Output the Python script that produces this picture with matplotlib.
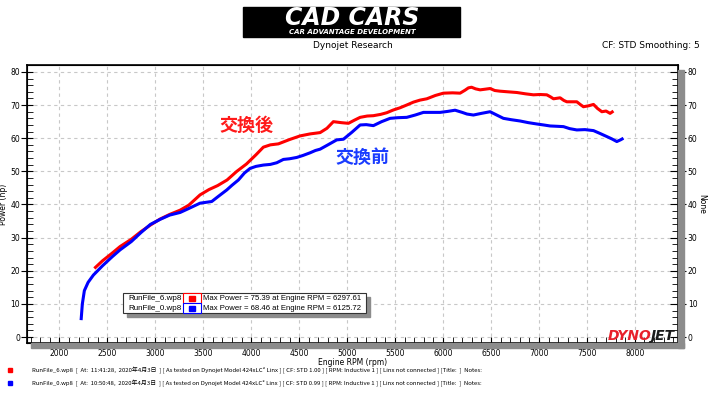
import numpy as np
import matplotlib
matplotlib.use("Agg")
import matplotlib.pyplot as plt
from matplotlib.patches import Rectangle
from matplotlib.ticker import MultipleLocator

plt.rcParams['font.family'] = ['DejaVu Sans', 'Noto Sans CJK JP']

# run after the swap (交換後) - RunFile_6
rpm_after = [2365, 2450, 2550, 2633, 2750, 2850, 2950, 3050, 3150, 3260, 3350, 3467,
             3560, 3650, 3749, 3850, 3950, 4050, 4127, 4200, 4284, 4400, 4510, 4614,
             4719, 4790, 4857, 4940, 5014, 5080, 5136, 5210, 5274, 5350, 5414, 5480,
             5553, 5620, 5692, 5760, 5831, 5920, 6004, 6100, 6178, 6230, 6265, 6297.61,
             6340, 6387, 6440, 6491, 6540, 6595, 6680, 6770, 6860, 6943, 7010, 7082,
             7120, 7152, 7221, 7260, 7291, 7350, 7395, 7430, 7464, 7520, 7569, 7610,
             7656, 7700, 7742, 7777]
hp_after = [20.7, 23.0, 25.3, 27.3, 29.5, 31.8, 33.8, 35.6, 37.0, 38.3, 39.8, 42.9,
            44.5, 45.7, 47.4, 50.0, 52.2, 55.0, 57.3, 58.0, 58.3, 59.6, 60.7, 61.3,
            61.7, 63.0, 65.0, 64.7, 64.5, 65.5, 66.3, 66.7, 66.8, 67.2, 67.7, 68.5,
            69.2, 70.0, 70.9, 71.5, 71.9, 72.9, 73.6, 73.7, 73.6, 74.5, 75.2, 75.39,
            74.9, 74.6, 74.8, 75.0, 74.4, 74.2, 74.0, 73.8, 73.4, 73.1, 73.2, 73.1,
            72.5, 71.9, 72.2, 71.4, 71.0, 71.0, 71.0, 70.2, 69.5, 69.8, 70.2, 69.0,
            68.0, 68.2, 67.5, 68.2]

# run before the swap (交換前) - RunFile_0
rpm_before = [2227, 2240, 2261, 2300, 2355, 2450, 2550, 2633, 2750, 2850, 2950, 3050,
              3150, 3260, 3350, 3467, 3589, 3660, 3746, 3800, 3867, 3930, 3989, 4050,
              4127, 4200, 4267, 4336, 4400, 4475, 4540, 4614, 4670, 4719, 4800, 4892,
              4962, 5050, 5136, 5200, 5274, 5360, 5448, 5530, 5622, 5710, 5796, 5880,
              5970, 6050, 6125.72, 6200, 6250, 6317, 6400, 6491, 6560, 6630, 6710, 6804,
              6890, 6978, 7050, 7117, 7190, 7256, 7320, 7395, 7480, 7569, 7640, 7708,
              7760, 7812, 7850, 7881]
hp_before = [5.1, 10.0, 14.0, 16.5, 18.7, 21.5, 24.2, 26.3, 28.8, 31.5, 34.0, 35.5,
             36.8, 37.6, 38.8, 40.4, 40.9, 42.5, 44.4, 45.8, 47.4, 49.5, 50.9, 51.5,
             51.9, 52.1, 52.6, 53.6, 53.8, 54.2, 54.8, 55.6, 56.3, 56.7, 58.0, 59.5,
             59.7, 61.8, 64.0, 64.1, 63.8, 65.0, 66.0, 66.2, 66.3, 67.0, 67.8, 67.8,
             67.8, 68.1, 68.46, 67.8, 67.3, 67.0, 67.5, 68.0, 67.0, 66.0, 65.6, 65.2,
             64.7, 64.3, 64.0, 63.7, 63.6, 63.5, 62.9, 62.5, 62.6, 62.3, 61.4, 60.5,
             59.8, 59.0, 59.5, 60.0]

run_names = ['RunFile_6.wp8', 'RunFile_0.wp8']
run_times = ['11:41:28', '10:50:48']
run_cf = ['1.00', '0.99']
run_colors = ['#ff0000', '#0000ff']


def fx(px):
    return px / 710


def fy(py):
    return 1 - py / 398


fig = plt.figure(figsize=(7.1, 3.98), dpi=100)

# header logo
fig.patches.append(Rectangle((fx(243), fy(37)), fx(460) - fx(243), fy(7) - fy(37),
                             transform=fig.transFigure, color='black', zorder=0))
fig.text(fx(352), fy(18), 'CAD CARS', color='white', fontsize=17, fontweight='bold',
         style='italic', ha='center', va='center')
fig.text(fx(352), fy(32.5), 'CAR ADVANTAGE DEVELOPMENT', color='white', fontsize=5,
         fontweight='bold', style='italic', ha='center', va='center')
fig.text(fx(353), fy(45), 'Dynojet Research', fontsize=6.5, ha='center', va='center')
fig.text(fx(700), fy(45), 'CF: STD Smoothing: 5', fontsize=6.5, ha='right', va='center')

# shadow behind the plot frame
shade = '#8c8c8c'
fig.patches.append(Rectangle((fx(31), fy(348)), fx(684) - fx(31), fy(343) - fy(348),
                             transform=fig.transFigure, color=shade, zorder=0))
fig.patches.append(Rectangle((fx(678), fy(348)), fx(684) - fx(678), fy(70) - fy(348),
                             transform=fig.transFigure, color=shade, zorder=0))

ax = fig.add_axes([fx(27), fy(343), fx(678) - fx(27), fy(65) - fy(343)])
ax.plot(rpm_after, hp_after, color=run_colors[0], lw=2.2, solid_capstyle='butt', zorder=3)
ax.plot(rpm_before, hp_before, color=run_colors[1], lw=2.2, solid_capstyle='butt', zorder=3)

ax.set_xlim(1663, 8450)
ax.set_ylim(-1.8, 82.1)
ax.xaxis.set_major_locator(MultipleLocator(500))
ax.xaxis.set_minor_locator(MultipleLocator(100))
ax.yaxis.set_major_locator(MultipleLocator(10))
ax.yaxis.set_minor_locator(MultipleLocator(2))
ax.grid(True, which='major', color='#c8c8c8', linestyle=(0, (3, 3)), lw=0.8)
ax.tick_params(axis='x', which='major', direction='inout', length=8, width=0.8,
               labelsize=5.5, pad=0.5, top=False)
ax.tick_params(axis='x', which='minor', direction='in', length=4, width=0.6, top=False)
ax.tick_params(axis='y', which='major', direction='inout', length=8, width=0.8,
               labelsize=5.5, pad=1)
ax.tick_params(axis='y', which='minor', direction='in', length=4, width=0.6)
for sp in ax.spines.values():
    sp.set_linewidth(1.2)
ax.set_xlabel('Engine RPM (rpm)', fontsize=5.5, labelpad=0)
ax.set_ylabel('Power (hp)', fontsize=5.5, labelpad=2)

ax2 = ax.twinx()
ax2.set_ylim(ax.get_ylim())
ax2.yaxis.set_major_locator(MultipleLocator(10))
ax2.yaxis.set_minor_locator(MultipleLocator(2))
ax2.tick_params(axis='y', which='major', direction='inout', length=12, width=0.8,
                labelsize=5.5, pad=1)
ax2.tick_params(axis='y', which='minor', direction='in', length=4, width=0.6)
ax2.set_ylabel('None', fontsize=5.5, rotation=270, labelpad=6)

ax.text(3947, 64.0, '交換後', color='#ff1a1a', fontsize=13, fontweight='bold',
        family=['Noto Sans CJK JP'], ha='center', va='center', zorder=4)
ax.text(5156, 54.3, '交換前', color='#1a3cff', fontsize=13, fontweight='bold',
        family=['Noto Sans CJK JP'], ha='center', va='center', zorder=4)

# DYNOJET mark in the lower right corner
fig.text(fx(651), fy(336), 'DYNO', color='#e8202a', fontsize=10, fontweight='bold',
         style='italic', ha='right', va='center', zorder=5)
fig.text(fx(650), fy(336), 'JET', color='#1a1a1a', fontsize=10, fontweight='bold',
         style='italic', ha='left', va='center', zorder=5)

# max power box
runs = [(rpm_after, hp_after), (rpm_before, hp_before)]
fig.patches.append(Rectangle((fx(127), fy(317)), fx(370) - fx(127), fy(297) - fy(317),
                             transform=fig.transFigure, color='#8c8c8c', zorder=5))
fig.patches.append(Rectangle((fx(123), fy(313)), fx(366) - fx(123), fy(293) - fy(313),
                             transform=fig.transFigure, fc='white', ec='#333333',
                             lw=0.8, zorder=6))
for i, (name, (r, p)) in enumerate(zip(run_names, runs)):
    k = int(np.argmax(p))
    ytop = 293 + 10 * i
    fig.patches.append(Rectangle((fx(183), fy(ytop + 10)), fx(201) - fx(183),
                                 fy(ytop) - fy(ytop + 10), transform=fig.transFigure,
                                 fc='white', ec=run_colors[i], lw=0.8, zorder=7))
    fig.patches.append(Rectangle((fx(189), fy(ytop + 7.5)), fx(195) - fx(189),
                                 fy(ytop + 2.5) - fy(ytop + 7.5), transform=fig.transFigure,
                                 color=run_colors[i], zorder=8))
    fig.text(fx(182), fy(ytop + 5), name, fontsize=5.8, family='Liberation Sans',
             ha='right', va='center', zorder=8)
    fig.text(fx(203), fy(ytop + 5),
             'Max Power = %.2f at Engine RPM = %.2f' % (p[k], r[k]),
             fontsize=5.6, family='Liberation Sans', ha='left', va='center', zorder=8)

# run info footer
for i, name in enumerate(run_names):
    yy = 370 + 13 * i
    fig.patches.append(Rectangle((fx(8), fy(yy + 2)), fx(12) - fx(8), fy(yy - 2) - fy(yy + 2),
                                 transform=fig.transFigure, color=run_colors[i]))
    fig.text(fx(32), fy(yy),
             '%s  [  At:  %s,  2020年4月3日  ] [ As tested on Dynojet Model 424xLC² Linx ] '
             '[ CF: STD %s ] [ RPM: Inductive 1 ] [ Linx not connected ] [Title:  ]  Notes:'
             % (name, run_times[i], run_cf[i]),
             fontsize=4.3, family=['Noto Sans CJK JP', 'DejaVu Sans'],
             ha='left', va='center')

fig.savefig('out.png', dpi=100)
